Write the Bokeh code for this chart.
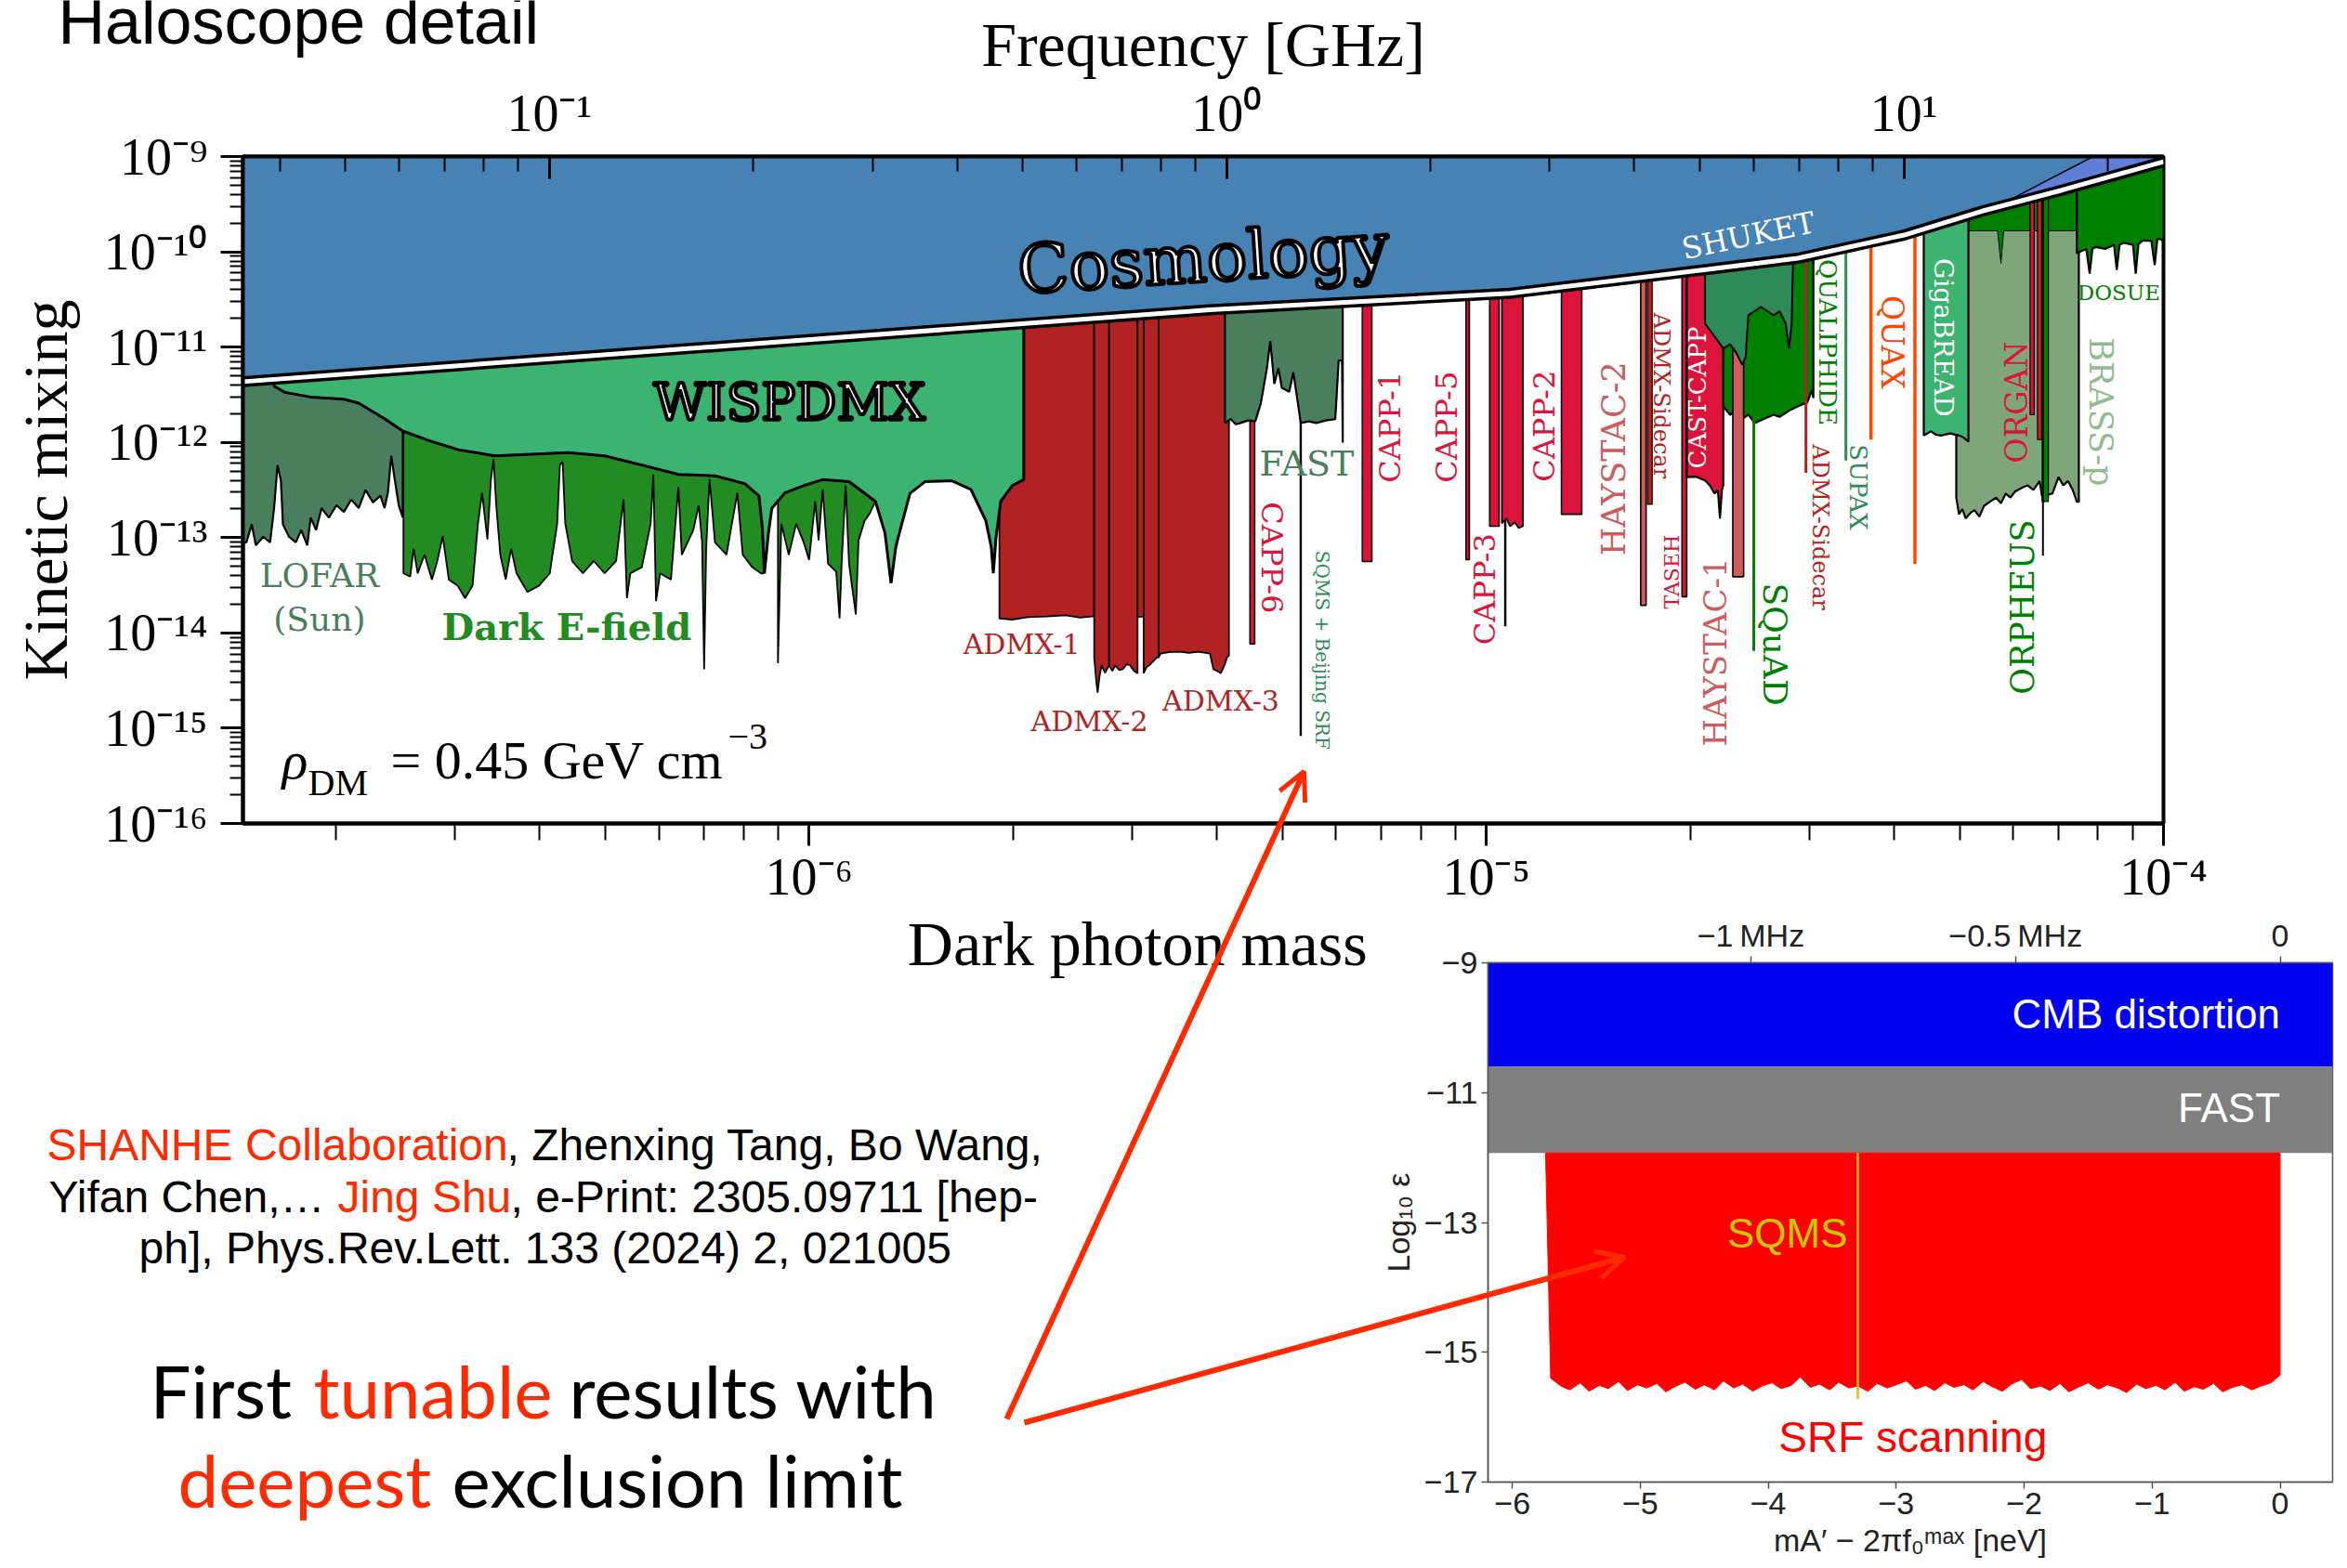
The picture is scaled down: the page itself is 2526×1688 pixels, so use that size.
from bokeh.plotting import figure
from bokeh.models import (Range1d, LogScale, LogAxis, LinearAxis, FixedTicker,
                          CustomJSTickFormatter, ColumnDataSource, Arrow, OpenHead)
from bokeh.core.properties import value, field
from bokeh.embed import file_html
from bokeh.resources import INLINE

# ============ DATA (main chart: log10 mass [eV], log10 kinetic mixing) ============
M_LO, M_HI = -6.836, -4.0
EPS_LO, EPS_HI = -16.0, -9.0
EV_PER_GHZ = 4.1357e-6
NEV_PER_MHZ = 4.1357

cosmo_bound = [(-6.836, -11.363), (-5.409, -10.609), (-4.965, -10.436), (-4.673, -10.185),
               (-4.540, -10.068), (-4.383, -9.824), (-4.268, -9.573), (-4.150, -9.353), (-4.0, -9.055)]
purple_region = [(-4.25, -9.54), (-4.104, -9.0), (-4.0, -9.0), (-4.0, -9.055), (-4.150, -9.353)]

lofar_edge = [(-6.836, -13.05), (-6.831, -13.05), (-6.823, -12.86), (-6.817, -13.08), (-6.806, -12.99),
              (-6.796, -13.05), (-6.790, -12.69), (-6.785, -12.24), (-6.780, -12.40), (-6.777, -12.86),
              (-6.768, -12.99), (-6.758, -13.05), (-6.750, -12.92), (-6.741, -13.08), (-6.736, -12.79),
              (-6.728, -12.92), (-6.720, -12.69), (-6.709, -12.79), (-6.698, -12.66), (-6.687, -12.73),
              (-6.676, -12.60), (-6.665, -12.69), (-6.655, -12.50), (-6.644, -12.63), (-6.633, -12.56),
              (-6.627, -12.69), (-6.622, -12.53), (-6.617, -12.14), (-6.611, -12.43), (-6.606, -12.66),
              (-6.600, -12.79)]

efield_edge = [(-6.599, -13.375), (-6.589, -13.408), (-6.584, -13.115), (-6.578, -13.375), (-6.568, -13.18),
               (-6.557, -13.44), (-6.549, -13.245), (-6.541, -12.985), (-6.532, -13.44), (-6.519, -13.505),
               (-6.508, -13.635), (-6.497, -13.505), (-6.489, -12.855), (-6.483, -12.531), (-6.475, -13.018),
               (-6.470, -12.401), (-6.466, -12.173), (-6.462, -12.661), (-6.456, -13.18), (-6.448, -13.44),
               (-6.440, -13.115), (-6.432, -13.375), (-6.416, -13.57), (-6.399, -13.505), (-6.383, -13.375),
               (-6.372, -12.855), (-6.368, -12.238), (-6.364, -12.206), (-6.360, -12.855), (-6.350, -13.245),
               (-6.334, -13.375), (-6.318, -13.245), (-6.302, -13.375), (-6.285, -13.245), (-6.274, -12.596),
               (-6.269, -13.635), (-6.264, -13.375), (-6.247, -13.31), (-6.234, -12.855), (-6.230, -12.336),
               (-6.226, -13.667), (-6.220, -13.375), (-6.204, -13.44), (-6.193, -12.466), (-6.188, -13.18),
               (-6.171, -12.92), (-6.163, -12.661), (-6.158, -13.05), (-6.155, -14.382), (-6.152, -13.115),
               (-6.147, -12.385), (-6.139, -13.05), (-6.122, -13.18), (-6.106, -12.531), (-6.098, -13.18),
               (-6.084, -13.31), (-6.071, -13.375), (-6.067, -13.375)]
efield_hump_edge = [(-6.046, -14.317), (-6.041, -12.855), (-6.030, -13.18), (-6.019, -12.855), (-6.008, -13.05),
                    (-6.000, -13.233), (-5.991, -12.618), (-5.986, -13.028), (-5.980, -12.494), (-5.972, -13.274),
                    (-5.960, -13.356), (-5.955, -13.848), (-5.952, -13.274), (-5.946, -12.453), (-5.941, -13.274),
                    (-5.931, -13.807), (-5.927, -13.028), (-5.918, -12.823), (-5.910, -12.741), (-5.902, -12.618)]

wispdmx_curve = [(-6.790, -11.41), (-6.774, -11.475), (-6.736, -11.524), (-6.687, -11.547), (-6.665, -11.589),
                 (-6.627, -11.751), (-6.600, -11.881), (-6.562, -11.979), (-6.519, -12.076), (-6.464, -12.141),
                 (-6.356, -12.108), (-6.302, -12.141), (-6.247, -12.238), (-6.193, -12.336), (-6.139, -12.352),
                 (-6.095, -12.433), (-6.074, -12.563), (-6.069, -12.90), (-6.066, -13.375), (-6.060, -12.95),
                 (-6.055, -12.693), (-6.036, -12.531), (-6.008, -12.454), (-5.980, -12.391), (-5.941, -12.413),
                 (-5.902, -12.619), (-5.888, -12.95), (-5.879, -13.479), (-5.872, -13.1), (-5.868, -12.987),
                 (-5.851, -12.535), (-5.829, -12.413), (-5.789, -12.403), (-5.761, -12.495), (-5.739, -12.823),
                 (-5.731, -13.1), (-5.728, -13.375), (-5.724, -13.0), (-5.717, -12.619), (-5.700, -12.454),
                 (-5.683, -12.391)]

admx_edges = [
    [(-5.719, -13.848), (-5.700, -13.86), (-5.677, -13.835), (-5.649, -13.828), (-5.621, -13.815),
     (-5.600, -13.84), (-5.582, -13.828), (-5.579, -13.828)],
    [(-5.579, -14.258), (-5.576, -14.50), (-5.574, -14.627), (-5.571, -14.45), (-5.568, -14.34),
     (-5.563, -14.42), (-5.560, -14.381), (-5.557, -14.34)],
    [(-5.557, -14.34), (-5.552, -14.40), (-5.548, -14.34), (-5.542, -14.39), (-5.537, -14.381),
     (-5.531, -14.33), (-5.526, -14.34), (-5.520, -14.40), (-5.515, -14.422)],
    [(-5.515, -13.83), (-5.506, -13.83)],
    [(-5.506, -14.422), (-5.502, -14.36), (-5.498, -14.34), (-5.492, -14.30), (-5.487, -14.258), (-5.484, -14.258)],
    [(-5.484, -14.258), (-5.481, -14.217), (-5.467, -14.20), (-5.453, -14.197), (-5.439, -14.21), (-5.425, -14.197),
     (-5.408, -14.217), (-5.403, -14.381), (-5.397, -14.40), (-5.392, -14.422), (-5.386, -14.33),
     (-5.383, -14.258), (-5.380, -14.237)],
]

fast_edge = [(-5.386, -11.797), (-5.377, -11.756), (-5.370, -11.81), (-5.363, -11.797), (-5.352, -11.77),
             (-5.341, -11.777), (-5.333, -11.592), (-5.324, -11.223), (-5.319, -10.936), (-5.313, -11.387),
             (-5.307, -11.223), (-5.302, -11.428), (-5.291, -11.469), (-5.285, -11.264), (-5.279, -11.551),
             (-5.274, -11.797), (-5.262, -11.78), (-5.251, -11.797), (-5.237, -11.77), (-5.223, -11.756),
             (-5.218, -11.141), (-5.213, -11.141), (-5.212, -12.002)]

capp_strips = [(-5.349, -5.342, -14.115), (-5.183, -5.169, -13.25), (-5.030, -5.025, -13.23),
               (-4.995, -4.981, -12.88), (-4.889, -4.859, -12.755), (-4.711, -4.704, -13.62)]
capp3b_edge = [(-4.977, -12.85), (-4.970, -12.80), (-4.965, -12.88), (-4.958, -12.84), (-4.952, -12.90), (-4.946, -12.88)]
haystac_strips = [(-4.772, -4.764, -13.71), (-4.636, -4.620, -13.41)]
sidecar_strip = (-4.762, -4.755, -12.65)
castcapp_edge = [(-4.704, -12.364), (-4.690, -12.36), (-4.677, -12.40), (-4.670, -12.45), (-4.663, -12.537),
                 (-4.658, -12.50), (-4.655, -12.8), (-4.652, -12.5), (-4.650, -12.45)]
green_edge = [(-4.650, -11.623), (-4.640, -11.71), (-4.631, -11.667), (-4.622, -11.754), (-4.613, -11.71),
              (-4.604, -11.797), (-4.590, -11.754), (-4.576, -11.71), (-4.567, -11.732), (-4.553, -11.667),
              (-4.540, -11.623), (-4.526, -11.58), (-4.519, -11.45), (-4.517, -11.536)]
shuket_edge = [(-4.677, -10.753), (-4.668, -10.84), (-4.659, -10.927), (-4.650, -11.014), (-4.640, -10.971),
               (-4.631, -11.058), (-4.622, -11.188), (-4.617, -11.101), (-4.613, -10.666), (-4.604, -10.623),
               (-4.595, -10.579), (-4.585, -10.623), (-4.576, -10.666), (-4.567, -10.623), (-4.558, -10.753),
               (-4.553, -11.014), (-4.549, -10.753), (-4.547, -10.057)]
brass_edge = [(-4.306, -12.58), (-4.302, -12.754), (-4.297, -12.70), (-4.292, -12.798), (-4.285, -12.74),
              (-4.279, -12.711), (-4.272, -12.78), (-4.265, -12.667), (-4.256, -12.62), (-4.247, -12.58),
              (-4.240, -12.64), (-4.233, -12.537), (-4.226, -12.58), (-4.219, -12.515), (-4.210, -12.48),
              (-4.201, -12.45), (-4.192, -12.50), (-4.183, -12.406), (-4.178, -12.624), (-4.171, -12.55),
              (-4.164, -12.537), (-4.155, -12.363), (-4.148, -12.45), (-4.141, -12.406), (-4.134, -12.50),
              (-4.128, -12.624), (-4.125, -12.624)]
brass_top_edge = [(-4.288, -9.78), (-4.245, -9.78), (-4.240, -10.12), (-4.236, -9.78), (-4.128, -9.78)]
giga_edge = [(-4.354, -11.928), (-4.343, -11.884), (-4.336, -11.92), (-4.329, -11.928), (-4.315, -11.906),
             (-4.302, -11.928), (-4.295, -11.95), (-4.288, -11.993)]
organ_strips = [(-4.197, -4.191, -11.71), (-4.186, -4.180, -11.97)]
orpheus_strip = (-4.179, -4.170, -12.62)
dosue_edge = [(-4.128, -10.014), (-4.114, -9.97), (-4.109, -10.23), (-4.105, -9.97), (-4.100, -9.949),
              (-4.086, -9.97), (-4.073, -9.927), (-4.069, -10.19), (-4.065, -9.93), (-4.059, -9.905),
              (-4.045, -9.927), (-4.041, -10.23), (-4.037, -9.92), (-4.031, -9.883), (-4.018, -9.883),
              (-4.013, -10.14), (-4.009, -9.862), (-4.004, -9.87), (-4.0, -9.883)]
# single-line limits: (log10 mass, lowest log10 eps, colour)
limit_lines = {
    "SQMS + Beijing SRF": (-5.274, -15.08, "black"),
    "CAPP-3 tail": (-4.972, -13.93, "black"),
    "SQuAD": (-4.605, -14.19, "#008000"),
    "ADMX-Sidecar 2": (-4.528, -12.319, "#b22222"),
    "SUPAX": (-4.469, -12.19, "#2e8b57"),
    "QUAX 1": (-4.432, -11.97, "#ff4500"),
    "QUAX 2": (-4.367, -13.276, "#ff4500"),
    "ORPHEUS tail": (-4.178, -13.19, "black"),
}

label_text = ["LOFAR", "(Sun)", "ADMX-1", "ADMX-2", "ADMX-3", "FAST", "CAPP-6", "SQMS + Beijing SRF",
              "CAPP-1", "CAPP-5", "CAPP-3", "CAPP-2", "HAYSTAC-2", "ADMX-Sidecar", "TASEH", "HAYSTAC-1",
              "SQuAD", "QUALIPHIDE", "ADMX-Sidecar", "SUPAX", "QUAX", "ORGAN", "ORPHEUS", "BRASS-p",
              "DOSUE", "CAST-CAPP", "GigaBREAD", "SHUKET"]
label_lm = [-6.723, -6.723, -5.686, -5.586, -5.392, -5.265, -5.316, -5.243, -5.142, -5.058, -5.002, -4.914,
            -4.812, -4.741, -4.726, -4.662, -4.573, -4.496, -4.507, -4.451, -4.400, -4.217, -4.208, -4.093,
            -4.066, -4.688, -4.325, -4.613]
label_le = [-13.40, -13.86, -14.12, -14.93, -14.71, -12.22, -13.21, -14.18, -11.84, -11.84, -13.54, -11.83,
            -12.17, -11.51, -13.36, -14.20, -14.12, -10.95, -12.89, -12.47, -10.95, -11.58, -13.73, -11.68,
            -10.43, -11.53, -10.90, -9.83]
label_rot = [0, 0, 0, 0, 0, 0, -90, -90, 90, 90, 90, 90, 90, -90, 90, 90, -90, -90, -90, -90, -90, 90, 90,
             -90, 0, 90, -90, 11.7]
label_px = [36, 36, 30, 30, 30, 38, 32, 20, 32, 32, 32, 32, 35, 24, 22, 34, 36, 26, 24, 26, 33, 33, 35, 35,
            23, 26, 28, 32]
label_color = ["#4a7f5e", "#4a7f5e", "#b22222", "#b22222", "#b22222", "#4a7f5e", "#dc143c", "#2e8b57",
               "#dc143c", "#dc143c", "#dc143c", "#dc143c", "#cd5c5c", "#b22222", "#dc143c", "#cd5c5c",
               "#008000", "#008000", "#b22222", "#2e8b57", "#ff4500", "#dc143c", "#008000", "#8fbc8f",
               "#008000", "white", "white", "white"]

# ============ DATA (inset: SRF scanning) ============
inset_x_range = (-6.19, 0.41)
cmb_band = (-10.6, -9.0)
fast_band = (-11.93, -10.6)
srf_x = [-5.70, -5.62, -5.55, -5.47, -5.40, -5.32, -5.25, -5.17, -5.10, -5.02,
         -4.95, -4.87, -4.80, -4.72, -4.65, -4.57, -4.50, -4.42, -4.35, -4.27,
         -4.20, -4.12, -4.05, -3.97, -3.90, -3.82, -3.75, -3.67, -3.60, -3.52,
         -3.45, -3.37, -3.30, -3.22, -3.15, -3.07, -3.00, -2.92, -2.85, -2.77,
         -2.70, -2.62, -2.55, -2.47, -2.40, -2.32, -2.25, -2.17, -2.10, -2.02,
         -1.95, -1.87, -1.80, -1.72, -1.65, -1.57, -1.50, -1.42, -1.35, -1.27,
         -1.20, -1.12, -1.05, -0.97, -0.90, -0.82, -0.75, -0.67, -0.60, -0.52,
         -0.45, -0.37, -0.30, -0.22, -0.15, -0.07, 0.0]
srf_floor = [-15.40, -15.52, -15.58, -15.47, -15.60, -15.51, -15.56, -15.45, -15.59, -15.50,
             -15.55, -15.48, -15.61, -15.52, -15.46, -15.57, -15.50, -15.58, -15.44, -15.55,
             -15.49, -15.60, -15.52, -15.47, -15.56, -15.51, -15.38, -15.54, -15.49, -15.58,
             -15.46, -15.55, -15.52, -15.60, -15.48, -15.55, -15.50, -15.44, -15.57, -15.51,
             -15.59, -15.47, -15.54, -15.50, -15.58, -15.45, -15.53, -15.60, -15.49, -15.42,
             -15.56, -15.52, -15.59, -15.48, -15.61, -15.53, -15.47, -15.57, -15.50, -15.55,
             -15.62, -15.49, -15.56, -15.51, -15.58, -15.46, -15.60, -15.53, -15.57, -15.48,
             -15.61, -15.54, -15.50, -15.58, -15.52, -15.47, -15.35]
srf_top = -11.93
srf_left_top = -5.74
sqms_x, sqms_lo = -3.30, -15.72

RED = "#ff2a00"
SERIF = "Liberation Serif"
LSERIF = "DejaVu Serif"
SANS = "Liberation Sans"
W, H = 2526, 1688
TOP = EPS_HI


def L(vals):
    return [10.0 ** v for v in vals]


# ============ MAIN FIGURE ============
p = figure(width=W, height=H, x_axis_type="log", y_axis_type="log",
           x_range=Range1d(10 ** M_LO, 10 ** M_HI), y_range=Range1d(10 ** EPS_LO, 10 ** EPS_HI),
           output_backend="svg", toolbar_location=None,
           min_border_left=261, min_border_right=198, min_border_top=168, min_border_bottom=802,
           background_fill_color="white", border_fill_color="white")
p.grid.visible = False
p.outline_line_color = "black"
p.outline_line_width = 4


def region(edge, color, lw=2.2):
    xs = [edge[0][0]] + [a for a, b in edge] + [edge[-1][0]]
    ys = [TOP] + [b for a, b in edge] + [TOP]
    p.patch(L(xs), L(ys), fill_color=color, line_color="black", line_width=lw)


def strip(s, color, lw=1.6):
    x0, x1, b = s
    p.patch(L([x0, x0, x1, x1]), L([TOP, b, b, TOP]), fill_color=color, line_color="black", line_width=lw)


def vline(key, lw=3):
    x, b, c = limit_lines[key]
    p.line(L([x, x]), L([TOP, b]), line_color=c, line_width=lw)


region(lofar_edge, "#4a7f5e")
region(efield_edge, "#228b22", 1.8)
region(efield_hump_edge, "#228b22", 1.8)
for e in admx_edges:
    region(e, "#b22222", 1.8)
wx = [a for a, b in wispdmx_curve] + [wispdmx_curve[-1][0], wispdmx_curve[0][0]]
wy = [b for a, b in wispdmx_curve] + [TOP, TOP]
p.patch(L(wx), L(wy), fill_color="#3cb371", line_color="black", line_width=3)

strip(capp_strips[0], "#dc143c")
vline("SQMS + Beijing SRF", 2.5)
region(fast_edge, "#4a7f5e")
for s in capp_strips[1:5]:
    strip(s, "#dc143c")
vline("CAPP-3 tail", 2.5)
region(capp3b_edge, "#dc143c", 1.8)
strip(haystac_strips[0], "#cd5c5c")
strip(sidecar_strip, "#b22222", 1.2)
strip(capp_strips[5], "#dc143c")
region(castcapp_edge, "#dc143c")
region(green_edge, "#008000")
strip(haystac_strips[1], "#cd5c5c")
vline("SQuAD")
region(shuket_edge, "#2e8b57", 2.0)
vline("ADMX-Sidecar 2")
vline("SUPAX")
vline("QUAX 1", 3.5)
vline("QUAX 2", 3.5)
region(brass_edge, "#7fa67a")
region(brass_top_edge, "#008000", 1.0)
region(giga_edge, "#3cb371")
for s in organ_strips:
    strip(s, "#dc143c", 1.2)
strip(orpheus_strip, "#008000", 1.2)
vline("ORPHEUS tail", 2)
region(dosue_edge, "#008000")

cx = [a for a, b in cosmo_bound] + [M_HI, M_LO]
cy = [b for a, b in cosmo_bound] + [TOP, TOP]
p.patch(L(cx), L(cy), fill_color="#4682b4", line_color=None)
p.patch(L([a for a, b in purple_region]), L([b for a, b in purple_region]),
        fill_color="#5f7ed8", line_color="black", line_width=1.5)
p.line(L([a for a, b in cosmo_bound]), L([b for a, b in cosmo_bound]), line_color="black", line_width=12)
p.line(L([a for a, b in cosmo_bound]), L([b for a, b in cosmo_bound]), line_color="white", line_width=5)

lab_src = ColumnDataSource(dict(x=L(label_lm), y=L(label_le), text=label_text, angle=label_rot,
                                size=[f"{v}px" for v in label_px], color=label_color))
p.text(x="x", y="y", text="text", angle="angle", angle_units="deg", source=lab_src,
       text_font=value(LSERIF), text_font_size=field("size"), text_color="color",
       text_align="center", text_baseline="middle")
p.text(x=L([-5.418]), y=L([-10.067]), text=["Cosmology"], angle=3.7, angle_units="deg",
       text_font=value(LSERIF), text_font_size="72px", text_color="white",
       text_outline_color="black", text_align="center", text_baseline="middle")
p.text(x=L([-6.029]), y=L([-11.575]), text=["WISPDMX"], text_font=value(LSERIF), text_font_size="55px",
       text_color="white", text_outline_color="black", text_align="center", text_baseline="middle")
p.text(x=L([-6.358]), y=L([-13.93]), text=["Dark E-field"], text_font=value(LSERIF), text_font_size="40px",
       text_font_style="bold", text_color="#228b22", text_align="center", text_baseline="middle")

sup_js = """
const m = {'-':'\u207b','0':'\u2070','1':'\u00b9','2':'\u00b2','3':'\u00b3','4':'\u2074',
           '5':'\u2075','6':'\u2076','7':'\u2077','8':'\u2078','9':'\u2079'};
const e = Math.round(Math.log10(tick));
return '10' + String(e).split('').map(c => m[c]).join('');
"""
pow_fmt = CustomJSTickFormatter(code=sup_js)


def style_axis(ax, tin, tout, min_in, min_out, standoff, lab_standoff):
    ax.axis_line_width = 4
    ax.axis_line_color = "black"
    ax.major_tick_in = tin
    ax.major_tick_out = tout
    ax.minor_tick_in = min_in
    ax.minor_tick_out = min_out
    ax.major_tick_line_width = 3
    ax.minor_tick_line_width = 2
    ax.major_tick_line_color = "black"
    ax.minor_tick_line_color = "black"
    ax.major_label_text_font = SERIF
    ax.major_label_text_font_size = "56px"
    ax.major_label_text_color = "black"
    ax.major_label_standoff = standoff
    ax.axis_label_text_font = SERIF
    ax.axis_label_text_font_size = "68px"
    ax.axis_label_text_font_style = "normal"
    ax.axis_label_text_color = "black"
    ax.axis_label_standoff = lab_standoff


y_major = [10.0 ** e for e in range(-16, -8)]
y_minor = [k * 10.0 ** e for e in range(-16, -9) for k in range(2, 10)]
x_major = [1e-6, 1e-5, 1e-4]
x_minor = [k * 10.0 ** e for e in (-7, -6, -5) for k in range(2, 10) if k * 10.0 ** e > 10 ** M_LO]
f_major = [0.1, 1.0, 10.0]
f_minor = [k * 10.0 ** e for e in (-2, -1, 0, 1) for k in range(2, 10)]

ya = p.yaxis[0]
ya.ticker = FixedTicker(ticks=y_major, minor_ticks=y_minor)
ya.formatter = pow_fmt
ya.axis_label = "Kinetic mixing"
style_axis(ya, 0, 24, 0, 14, 14, 22)

xa = p.xaxis[0]
xa.ticker = FixedTicker(ticks=x_major, minor_ticks=x_minor)
xa.formatter = pow_fmt
xa.axis_label = "Dark photon mass [eV]"
style_axis(xa, 0, 24, 0, 18, 2, 0)

p.extra_x_ranges = {"freq": Range1d(10 ** M_LO / EV_PER_GHZ, 10 ** M_HI / EV_PER_GHZ)}
p.extra_x_scales = {"freq": LogScale()}
ta = LogAxis(x_range_name="freq", ticker=FixedTicker(ticks=f_major, minor_ticks=f_minor),
             formatter=pow_fmt, axis_label="Frequency [GHz]")
style_axis(ta, 24, 0, 16, 0, 16, 2)
p.add_layout(ta, "above")

# ============ INSET FIGURE ============
ins = figure(width=1056, height=713, x_range=Range1d(*inset_x_range), y_range=Range1d(-17, -9),
             output_backend="svg", toolbar_location=None,
             min_border_left=131, min_border_right=16, min_border_top=61, min_border_bottom=93,
             background_fill_color="white", border_fill_color="white")
ins.grid.visible = False
ins.outline_line_color = "#555555"
ins.outline_line_width = 1.5

ins.quad(left=[inset_x_range[0]], right=[inset_x_range[1]], bottom=[cmb_band[0]], top=[cmb_band[1]],
         fill_color="#0000f0", line_color=None)
ins.quad(left=[inset_x_range[0]], right=[inset_x_range[1]], bottom=[fast_band[0]], top=[fast_band[1]],
         fill_color="#808080", line_color=None)
sx = [srf_left_top] + srf_x + [srf_x[-1]]
sy = [srf_top] + srf_floor + [srf_top]
ins.patch(sx, sy, fill_color="#ff0000", line_color="#ff0000", line_width=1)
ins.line([sqms_x, sqms_x], [srf_top, sqms_lo], line_color="#c8c800", line_width=2.5)

ins.text(x=[0.0, 0.0], y=[-9.78, -11.23], text=["CMB distortion", "FAST"], text_font=value(SANS),
         text_font_size="44px", text_color="white", text_align="right", text_baseline="middle")
ins.text(x=[-3.38], y=[-13.17], text=["SQMS"], text_font=value(SANS), text_font_size="44px",
         text_color="#c8c800", text_align="right", text_baseline="middle")
ins.text(x=[-2.87], y=[-16.30], text=["SRF scanning"], text_font=value(SANS), text_font_size="46px",
         text_color="#ff0000", text_align="center", text_baseline="middle")


def style_inset_axis(ax, label):
    ax.axis_line_color = "#555555"
    ax.axis_line_width = 1.5
    ax.major_tick_out = 7
    ax.major_tick_in = 0
    ax.minor_tick_out = 0
    ax.minor_tick_in = 0
    ax.major_tick_line_color = "#555555"
    ax.major_tick_line_width = 1.5
    ax.major_label_text_font = SANS
    ax.major_label_text_font_size = "34px"
    ax.major_label_text_color = "#222222"
    ax.major_label_standoff = 4
    ax.axis_label = label
    ax.axis_label_text_font = SANS
    ax.axis_label_text_font_size = "34px"
    ax.axis_label_text_font_style = "normal"
    ax.axis_label_text_color = "#222222"
    ax.axis_label_standoff = 6


ix = ins.xaxis[0]
ix.ticker = FixedTicker(ticks=[-6, -5, -4, -3, -2, -1, 0])
ix.major_label_overrides = {-6: "\u22126", -5: "\u22125", -4: "\u22124", -3: "\u22123",
                            -2: "\u22122", -1: "\u22121", 0: "0"}
style_inset_axis(ix, "mA\u2032 \u2212 2\u03c0f\u2080\u1d50\u1d43\u02e3 [neV]")
iy = ins.yaxis[0]
iy.ticker = FixedTicker(ticks=[-17, -15, -13, -11, -9])
iy.major_label_overrides = {-17: "\u221217", -15: "\u221215", -13: "\u221213", -11: "\u221211", -9: "\u22129"}
style_inset_axis(iy, "Log\u2081\u2080 \u03b5")

ins.extra_x_ranges = {"mhz": Range1d(inset_x_range[0] / NEV_PER_MHZ, inset_x_range[1] / NEV_PER_MHZ)}
itop = LinearAxis(x_range_name="mhz", ticker=FixedTicker(ticks=[-1, -0.5, 0]))
itop.major_label_overrides = {-1: "\u22121\u2009MHz", -0.5: "\u22120.5\u2009MHz", 0: "0"}
style_inset_axis(itop, "")
itop.axis_label = None
ins.add_layout(itop, "above")

# ============ OVERLAY (slide text + arrows) ============
ov = figure(width=W, height=H, x_range=Range1d(0, W), y_range=Range1d(H, 0),
            x_axis_location=None, y_axis_location=None, min_border=0,
            output_backend="svg", toolbar_location=None,
            background_fill_color=None, border_fill_color=None, outline_line_color=None)
ov.grid.visible = False

ov.text(x=[62], y=[22], text=["Haloscope detail"], text_font=value(SANS), text_font_size="70px",
        text_color="black", text_align="left", text_baseline="alphabetic")

cite_text = ["SHANHE Collaboration", ", Zhenxing Tang, Bo Wang,", "Yifan Chen,\u2026 ", "Jing Shu",
             ", e-Print: 2305.09711 [hep-", "ph], Phys.Rev.Lett. 133 (2024) 2, 021005"]
cite_x = [50, 545, 52, 363, 549, 149]
cite_y = [1232, 1232, 1288, 1288, 1288, 1343]
cite_c = [RED, "black", "black", RED, "black", "black"]
ov.text(x=cite_x, y=cite_y, text=cite_text, text_color=cite_c, text_font=value(SANS),
        text_font_size="48px", text_align="left", text_baseline="alphabetic")

big_text = ["First", "tunable", "results with", "deepest", "exclusion limit"]
big_x = [161, 337, 612, 191, 486]
big_y = [1496, 1496, 1496, 1592, 1592]
big_c = ["black", RED, "black", RED, "black"]
ov.text(x=big_x, y=big_y, text=big_text, text_color=big_c, text_font=value("Lato"),
        text_font_size="78px", text_align="left", text_baseline="alphabetic")

ov.text(x=[303], y=[818], text=["\u03c1"], text_font=value(SERIF), text_font_size="58px",
        text_font_style="italic", text_color="black", text_align="left", text_baseline="alphabetic")
ov.text(x=[331, 783], y=[842, 792], text=["DM", "\u22123"], text_font=value(SERIF), text_font_size="40px",
        text_color="black", text_align="left", text_baseline="alphabetic")
ov.text(x=[420], y=[818], text=["= 0.45 GeV cm"], text_font=value(SERIF), text_font_size="58px",
        text_color="black", text_align="left", text_baseline="alphabetic")

for (x0, y0, x1, y1) in [(1083, 1527, 1403, 830), (1102, 1531, 1748, 1353)]:
    ov.add_layout(Arrow(end=OpenHead(line_color=RED, line_width=5, size=30),
                        x_start=x0, y_start=y0, x_end=x1, y_end=y1,
                        line_color=RED, line_width=6))

# independent roots, stacked with absolute positions (no frame alignment between them)
p.styles = {"position": "absolute", "left": "0px", "top": "0px"}
ins.styles = {"position": "absolute", "left": "1470px", "top": "975px"}
ov.styles = {"position": "absolute", "left": "0px", "top": "0px"}

open("out.html", "w").write(file_html([p, ins, ov], INLINE))
